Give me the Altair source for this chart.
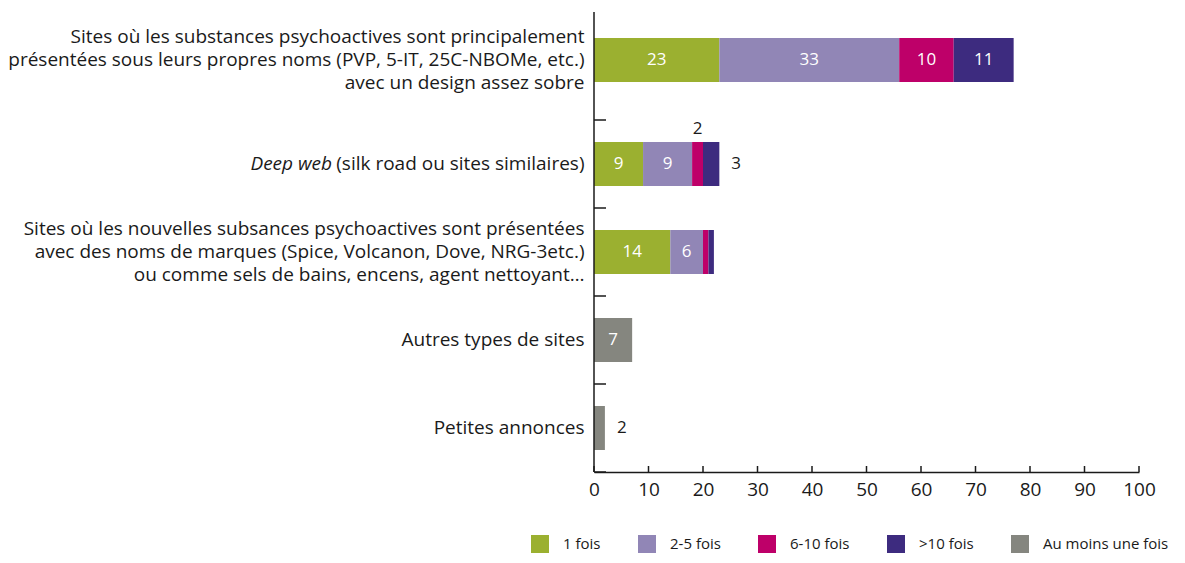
import altair as alt
import pandas as pd

# ---- data ----
categories = [
    "Sites où les substances psychoactives sont principalement|présentées sous leurs propres noms (PVP, 5-IT, 25C-NBOMe, etc.)|avec un design assez sobre",
    "Deep web (silk road ou sites similaires)",
    "Sites où les nouvelles subsances psychoactives sont présentées|avec des noms de marques (Spice, Volcanon, Dove, NRG-3etc.)|ou comme sels de bains, encens, agent nettoyant…",
    "Autres types de sites",
    "Petites annonces",
]
series = ["1 fois", "2-5 fois", "6-10 fois", ">10 fois", "Au moins une fois"]
colors = ["#9BB030", "#9186B6", "#BE0069", "#3D2B7F", "#85867F"]

fois_1 = [23, 9, 14, None, None]
fois_2_5 = [33, 9, 6, None, None]
fois_6_10 = [10, 2, 1, None, None]
fois_plus_10 = [11, 3, 1, None, None]
au_moins_une = [None, None, None, 7, 2]

x_ticks = [0, 10, 20, 30, 40, 50, 60, 70, 80, 90, 100]

# ---- build the long table ----
rows = []
values_by_series = [fois_1, fois_2_5, fois_6_10, fois_plus_10, au_moins_une]
for ci, cat in enumerate(categories):
    start = 0
    segs = []
    for si, s in enumerate(series):
        v = values_by_series[si][ci]
        if v is None:
            continue
        segs.append((s, v, start, start + v))
        start += v
    for k, (s, v, a, b) in enumerate(segs):
        last = k == len(segs) - 1
        if v >= 5:
            place = "inside"
        elif v >= 2 and last:
            place = "right"
        elif v >= 2:
            place = "above"
        else:
            place = "none"
        rows.append(dict(cat=cat, series=s, value=v, start=a, end=b,
                         mid=(a + b) / 2, place=place, order=series.index(s)))
df = pd.DataFrame(rows)

W, H = 545, 460
FONT = "Open Sans"
INK = "#1a1a1a"
# the first (three-line) row sits a little higher in its band in the reference
FIRST_SHIFT = alt.expr("indexof(datum.cat, 'design assez sobre') >= 0 ? -16 : 0")

yscale = alt.Scale(domain=categories, range=[20, H], paddingInner=0, paddingOuter=0)
xscale = alt.Scale(domain=[0, 100], nice=False)

y_axis = alt.Axis(
    title=None, domain=False, ticks=False, grid=False,
    labelExpr="split(replace(datum.label, 'Deep web ', ''), '|')",
    labelFontSize=19, labelLineHeight=23, labelPadding=10,
    labelColor=INK, labelLimit=0, labelFont=FONT,
    labelOffset={"condition": [
        {"test": "indexof(datum.label, 'design assez sobre') >= 0", "value": -39},
        {"test": "indexof(datum.label, '|') >= 0", "value": -23},
    ], "value": 0},
)
x_axis = alt.Axis(title=None, values=x_ticks, ticks=False, domain=True,
                  domainColor=INK, domainWidth=1.5, grid=False,
                  labelFontSize=19, labelPadding=8, labelColor=INK,
                  labelFont=FONT, labelFlush=False, labelOverlap=False)

base = alt.Chart(df)

bars = base.mark_bar(size=44, opacity=1, yOffset=FIRST_SHIFT).encode(
    y=alt.Y("cat:N", scale=yscale, sort=categories, axis=y_axis),
    x=alt.X("start:Q", scale=xscale, axis=x_axis),
    x2="end:Q",
    color=alt.Color("series:N", scale=alt.Scale(domain=series, range=colors),
                    legend=alt.Legend(orient="none", legendX=-63, legendY=523,
                                      direction="horizontal", columns=5, title=None,
                                      symbolType="square", symbolSize=324,
                                      symbolStrokeWidth=0, symbolOpacity=1,
                                      labelFontSize=15, labelFont=FONT,
                                      labelColor=INK, labelOffset=14,
                                      columnPadding=37, padding=0)),
    order=alt.Order("order:Q"),
)

txt_inside = base.transform_filter("datum.place == 'inside'").mark_text(
    color="white", fontSize=17, font=FONT, align="center", baseline="middle",
    yOffset=FIRST_SHIFT
).encode(y=alt.Y("cat:N", scale=yscale, sort=categories, axis=y_axis),
         x=alt.X("mid:Q", scale=xscale, axis=x_axis), text="value:Q")

txt_right = base.transform_filter("datum.place == 'right'").mark_text(
    color=INK, fontSize=17, font=FONT, align="left", baseline="middle", dx=12
).encode(y=alt.Y("cat:N", scale=yscale, sort=categories, axis=y_axis),
         x=alt.X("end:Q", scale=xscale, axis=x_axis), text="value:Q")

txt_above = base.transform_filter("datum.place == 'above'").mark_text(
    color=INK, fontSize=17, font=FONT, align="center", baseline="middle", dy=-35
).encode(y=alt.Y("cat:N", scale=yscale, sort=categories, axis=y_axis),
         x=alt.X("mid:Q", scale=xscale, axis=x_axis), text="value:Q")

# italic "Deep web" part of the second label
italic_df = pd.DataFrame({"cat": [categories[1]], "t": ["Deep web"]})
txt_italic = alt.Chart(italic_df).mark_text(
    color=INK, fontSize=19, font=FONT, fontStyle="italic",
    align="right", baseline="middle", dx=-262
).encode(y=alt.Y("cat:N", scale=yscale, sort=categories, axis=y_axis),
         x=alt.value(0), text="t:N")

# y-axis line and inward band ticks
cat_df = pd.DataFrame({"cat": categories})
y_ticks = alt.Chart(cat_df).mark_rule(color=INK, strokeWidth=1.5).encode(
    y=alt.Y("cat:N", scale=yscale, sort=categories, axis=y_axis, bandPosition=1),
    x=alt.value(0), x2=alt.value(12))
y_line = alt.Chart(pd.DataFrame({"a": [0]})).mark_rule(color=INK, strokeWidth=1.5).encode(
    x=alt.value(0), y=alt.value(0), y2=alt.value(H))

# x-axis inward ticks
tick_df = pd.DataFrame({"t": x_ticks})
x_tick_marks = alt.Chart(tick_df).mark_rule(color=INK, strokeWidth=1.5).encode(
    x=alt.X("t:Q", scale=xscale, axis=x_axis), y=alt.value(H), y2=alt.value(H - 6))

chart = alt.layer(
    bars, txt_inside, txt_right, txt_above, txt_italic, y_ticks, y_line, x_tick_marks
).properties(
    width=W, height=H,
    padding={"left": 586, "top": 4, "right": 38, "bottom": 83},
    autosize=alt.AutoSizeParams(type="none"),
).configure_view(stroke=None)

chart.save("out.html", embed_options={"renderer": "svg", "actions": False})
